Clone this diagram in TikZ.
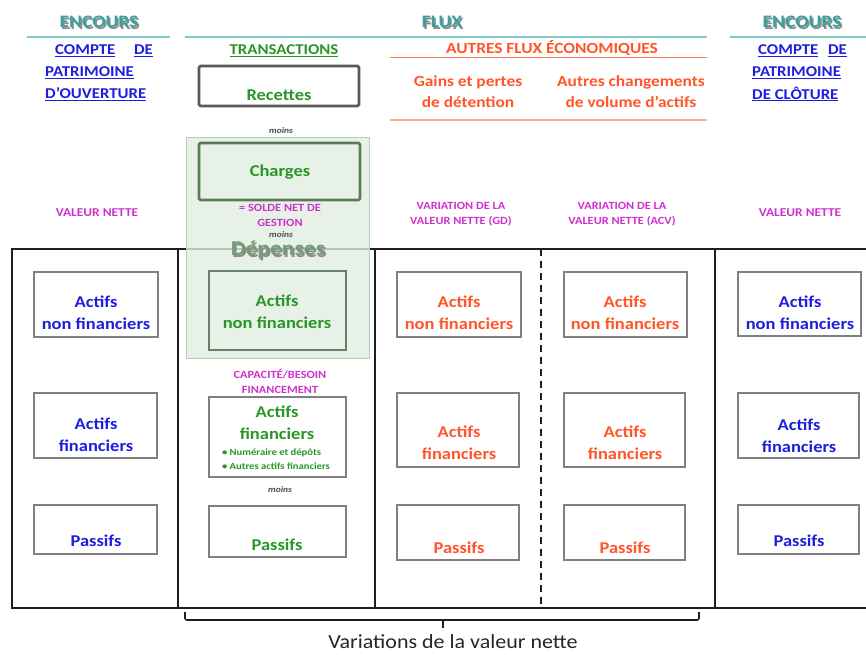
\documentclass[tikz,border=0pt]{standalone}
\usepackage{fontspec}
\setmainfont{Carlito}[FakeStretch=1.12]
\newfontfamily\narrowfont{Carlito}[FakeStretch=1.1]
\definecolor{tealh}{RGB}{58,160,160}
\definecolor{tealline}{RGB}{126,206,206}
\definecolor{ublue}{RGB}{30,30,225}
\definecolor{ugreen}{RGB}{40,150,40}
\definecolor{uorange}{RGB}{255,85,40}
\definecolor{lorange}{RGB}{255,175,145}
\definecolor{umag}{RGB}{205,50,205}
\definecolor{boxgray}{RGB}{128,128,128}
\definecolor{gfill}{RGB}{226,238,226}
\definecolor{gborder}{RGB}{178,208,178}
\definecolor{depcol}{RGB}{118,156,118}
\definecolor{framecol}{RGB}{30,30,30}
\tikzset{
  frame/.style={draw=framecol, line width=2pt},
  ibox/.style={draw=boxgray, line width=1.2pt},
  thickbox/.style={draw=#1, line width=2.6pt, rounded corners=1.5pt},
  head/.style={inner sep=0pt, text=tealh, font=\bfseries\fontsize{17.5}{20}\selectfont},
  headshadow/.style={inner sep=0pt, text=black!45, font=\bfseries\fontsize{17.5}{20}\selectfont},
  bltxt/.style={inner sep=0pt, text=ublue, font=\bfseries\fontsize{15}{20}\selectfont},
  bx/.style={inner sep=0pt, align=center, font=\bfseries\fontsize{16.5}{22}\selectfont},
  org/.style={inner sep=0pt, align=center, text=uorange, font=\bfseries\fontsize{15.5}{21}\selectfont},
  mag/.style={inner sep=0pt, align=center, text=umag, font=\bfseries\fontsize{11}{15}\selectfont},
  moinsst/.style={inner sep=0pt, text=black!70, font=\bfseries\itshape\fontsize{8.5}{9}\selectfont},
}
\begin{document}
\begin{tikzpicture}[x=1pt,y=-1pt]
\useasboundingbox[fill=white] (0,0) rectangle (866,654);

% ---------- headers ----------
\node[headshadow] at (100.5,23.5) {ENCOURS};
\node[head] (enc1) at (99,22) {ENCOURS};
\node[headshadow] at (443.5,23.5) {FLUX};
\node[head] (flux) at (442,22) {FLUX};
\node[headshadow] at (803.5,23.5) {ENCOURS};
\node[head] (enc2) at (802,22) {ENCOURS};
\draw[tealline, line width=2.2pt] (27,37) -- (170,37);
\draw[tealline, line width=2.2pt] (185,37) -- (707,37);
\draw[tealline, line width=2.2pt] (730,37) -- (866,37);

% left opening account
\node[bltxt, anchor=west] (co1) at (55,51) {\underline{COMPTE}};
\node[bltxt, anchor=east] (co2) at (153,51) {\underline{DE}};
\node[bltxt, anchor=west] (co3) at (45,73) {\underline{PATRIMOINE}};
\node[bltxt, anchor=west] (co4) at (45,94) {\underline{D'OUVERTURE}};
% right closing account
\node[bltxt, anchor=west] (cc1) at (758,51) {\underline{COMPTE}};
\node[bltxt, anchor=east] (cc2) at (847,51) {\underline{DE}};
\node[bltxt, anchor=west] (cc3) at (752,73) {\underline{PATRIMOINE}};
\node[bltxt, anchor=west] (cc4) at (752,94) {\underline{DE CLÔTURE}};

% transactions
\node[bx, text=ugreen, font=\bfseries\fontsize{15}{20}\selectfont] (trans) at (284,51) {\underline{TRANSACTIONS}};
\draw[thickbox=black!65] (199,66) rectangle (359,106);
\node[bx, text=ugreen] (rec) at (279,95) {Recettes};
\node[moinsst] (moins1) at (281,131) {moins};

% autres flux
\node[org] (afe) at (552,48) {AUTRES FLUX ÉCONOMIQUES};
\draw[uorange!80, line width=1pt] (390,57) -- (707,57);
\draw[lorange, line width=1.3pt] (390,120) -- (707,120);
\node[org] (gd) at (468,92) {Gains et pertes\\de détention};
\node[org] (acv) at (631,92) {Autres changements\\de volume d’actifs};

% magenta labels
\node[mag, font=\bfseries\fontsize{12}{15}\selectfont] (vn1) at (97,213) {VALEUR NETTE};
\node[mag, font=\bfseries\fontsize{12}{15}\selectfont] (vn2) at (800,213) {VALEUR NETTE};
\node[mag] (vgd) at (461,214) {VARIATION DE LA\\VALEUR NETTE (GD)};
\node[mag] (vacv) at (622,214) {VARIATION DE LA\\VALEUR NETTE (ACV)};
\node[mag] (cbf) at (280,381) {CAPACITÉ/BESOIN\\FINANCEMENT};

% ---------- main frame ----------
\draw[frame] (11,249) -- (866,249);
\draw[frame] (11,608) -- (866,608);
\draw[frame] (12,249) -- (12,608);
\draw[frame] (178,249) -- (178,608);
\draw[frame] (375,249) -- (375,608);
\draw[frame] (715,249) -- (715,608);
\draw[framecol, line width=2pt, dash pattern=on 7pt off 5pt] (541,249) -- (541,608);

% ---------- green overlay ----------
\fill[gfill, fill opacity=0.8] (186,137) rectangle (369,358);
\draw[gborder, line width=1pt] (186,137) rectangle (369,358);
\draw[thickbox=black!55!green!30!gray] (199,143) rectangle (360,200);
\node[bx, text=ugreen] (chg) at (280,172) {Charges};
\node[mag] (sng) at (280,215) {= SOLDE NET DE\\GESTION};
\node[moinsst] (moins2) at (281,235) {moins};
\node[inner sep=0pt, text=black!45, font=\bfseries\fontsize{21}{24}\selectfont] at (279.5,251.5) {Dépenses};
\node[inner sep=0pt, text=depcol, font=\bfseries\fontsize{21}{24}\selectfont] (dep) at (278,250) {Dépenses};

% ---------- boxes: opening ----------
\draw[ibox] (34,272) rectangle (158,337);
\node[bx, text=ublue] (o1) at (96,313) {Actifs\\non financiers};
\draw[ibox] (34,393) rectangle (157,458);
\node[bx, text=ublue] (o2) at (96,435) {Actifs\\financiers};
\draw[ibox] (34,505) rectangle (157,554);
\node[bx, text=ublue] (o3) at (96,541) {Passifs};

% ---------- boxes: transactions ----------
\draw[ibox, draw=black!45!green!20!gray] (209,271) rectangle (346,350);
\node[bx, text=ugreen] (t1) at (277,312) {Actifs\\non financiers};
\draw[ibox] (209,397) rectangle (346,477);
\node[bx, text=ugreen] (t2) at (277,423) {Actifs\\financiers};
\node[inner sep=0pt, align=left, text=ugreen, font=\bfseries\fontsize{9.5}{14}\selectfont] (t2b) at (276,459) {• Numéraire et dépôts\\• Autres actifs financiers};
\node[moinsst] (moins3) at (280,490) {moins};
\draw[ibox] (209,506) rectangle (346,557);
\node[bx, text=ugreen] (t3) at (277,545) {Passifs};

% ---------- boxes: GD ----------
\draw[ibox] (397,272) rectangle (521,337);
\node[bx, text=uorange] (g1) at (459,313) {Actifs\\non financiers};
\draw[ibox] (397,393) rectangle (519,467);
\node[bx, text=uorange] (g2) at (459,443) {Actifs\\financiers};
\draw[ibox] (397,505) rectangle (519,560);
\node[bx, text=uorange] (g3) at (459,548) {Passifs};

% ---------- boxes: ACV ----------
\draw[ibox] (564,272) rectangle (687,337);
\node[bx, text=uorange] (a1) at (625,313) {Actifs\\non financiers};
\draw[ibox] (564,393) rectangle (685,467);
\node[bx, text=uorange] (a2) at (625,443) {Actifs\\financiers};
\draw[ibox] (564,505) rectangle (685,560);
\node[bx, text=uorange] (a3) at (625,548) {Passifs};

% ---------- boxes: closing ----------
\draw[ibox] (738,272) rectangle (861,336);
\node[bx, text=ublue] (c1) at (800,313) {Actifs\\non financiers};
\draw[ibox] (738,393) rectangle (859,458);
\node[bx, text=ublue] (c2) at (799,436) {Actifs\\financiers};
\draw[ibox] (738,505) rectangle (859,554);
\node[bx, text=ublue] (c3) at (799,541) {Passifs};

% ---------- bracket ----------
\coordinate (bl) at (185,612);
\coordinate (br) at (699,612);
\coordinate (bt) at (443,628);
\draw[framecol, line width=1.6pt, rounded corners=2pt] (bl) -- (185,620) -- (699,620) -- (br);
\draw[framecol, line width=1.6pt] (443,620) -- (bt);
\node[inner sep=0pt, text=black!85, font=\narrowfont\fontsize{20}{22}\selectfont] (var) at (453,642) {Variations de la valeur nette};
\end{tikzpicture}
\end{document}
